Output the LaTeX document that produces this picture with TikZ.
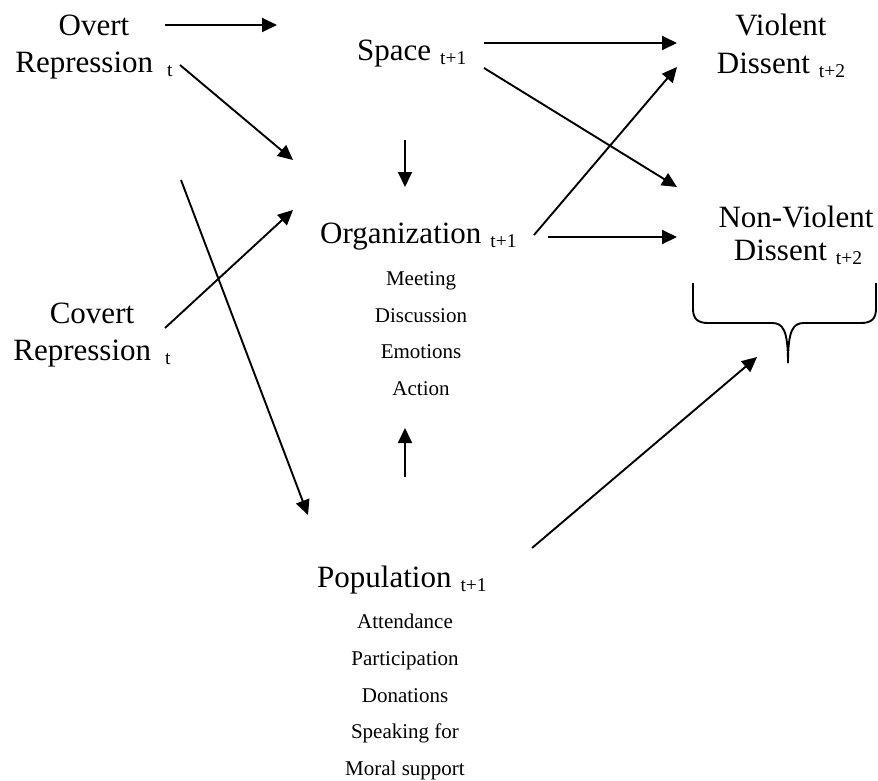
\documentclass[tikz,border=0pt]{standalone}
\usepackage{fontspec}
\setmainfont{Liberation Serif}
\usetikzlibrary{arrows.meta}
\newcommand{\bigf}{\fontsize{31}{37.5}\selectfont}
\newcommand{\smallf}{\fontsize{21}{25}\selectfont}
\newcommand{\subs}[1]{\raisebox{-4pt}{\fontsize{19.5}{20}\selectfont #1}}
\begin{document}
\begin{tikzpicture}[x=1pt,y=-1pt,
  lab/.style={font=\bigf, inner sep=0pt, anchor=base},
  labw/.style={font=\bigf, inner sep=0pt, anchor=base west},
  item/.style={font=\smallf, inner sep=0pt, anchor=base},
  arr/.style={line width=1.9pt, -{Triangle[length=15pt,width=14pt]}},
  brace/.style={line width=1.9pt}]
\useasboundingbox (0,0) rectangle (878,780);

% text nodes
\node[lab] (overt1) at (94,35) {Overt};
\node[lab] (overt2) at (94,72) {Repression\hspace{14pt}\subs{t}};
\node[lab] (covert1) at (92,323) {Covert};
\node[lab] (covert2) at (92,360) {Repression\hspace{14pt}\subs{t}};
\node[labw] (space) at (357,60) {Space\hspace{9pt}\subs{t+1}};
\node[labw] (org) at (320,243) {Organization\hspace{9pt}\subs{t+1}};
\node[item] (o1) at (421,285) {Meeting};
\node[item] (o2) at (421,322) {Discussion};
\node[item] (o3) at (421,358) {Emotions};
\node[item] (o4) at (421,395) {Action};
\node[labw] (pop) at (317,587) {Population\hspace{9pt}\subs{t+1}};
\node[item] (p1) at (405,628) {Attendance};
\node[item] (p2) at (405,665) {Participation};
\node[item] (p3) at (405,702) {Donations};
\node[item] (p4) at (405,738) {Speaking for};
\node[item] (p5) at (405,775) {Moral support};
\node[lab] (viol1) at (781,35) {Violent};
\node[lab] (viol2) at (781,73) {Dissent\hspace{9pt}\subs{t+2}};
\node[lab] (nv1) at (796,227) {Non-Violent};
\node[lab] (nv2) at (798,260) {Dissent\hspace{9pt}\subs{t+2}};

% connector end points
\coordinate (ovA) at (165,25);  \coordinate (spIn) at (277,25);
\coordinate (ovB) at (180,65);  \coordinate (orgIn1) at (293,160);
\coordinate (coA) at (165,328); \coordinate (orgIn2) at (293,210);
\coordinate (coB) at (181,180); \coordinate (popIn) at (308,515);
\coordinate (spD) at (405,140); \coordinate (orgTop) at (405,187);
\coordinate (popU) at (405,477); \coordinate (orgBot) at (405,428);
\coordinate (spR1) at (484,43); \coordinate (vIn1) at (677,43);
\coordinate (spR2) at (484,68); \coordinate (nvIn1) at (677,187);
\coordinate (orR1) at (534,235); \coordinate (vIn2) at (677,67);
\coordinate (orR2) at (548,237); \coordinate (nvIn2) at (677,237);
\coordinate (popR) at (532,548); \coordinate (brIn) at (757,357);

% connectors
\draw[arr] (ovA) -- (spIn);
\draw[arr] (ovB) -- (orgIn1);
\draw[arr] (coA) -- (orgIn2);
\draw[arr] (coB) -- (popIn);
\draw[arr] (spD) -- (orgTop);
\draw[arr] (popU) -- (orgBot);
\draw[arr] (spR1) -- (vIn1);
\draw[arr] (spR2) -- (nvIn1);
\draw[arr] (orR1) -- (vIn2);
\draw[arr] (orR2) -- (nvIn2);
\draw[arr] (popR) -- (brIn);

% brace
\draw[brace] (693,283) -- (693,309) .. controls (693,319) and (698,323) .. (708,323)
  -- (772,323) .. controls (783,323) and (788,330) .. (788,363);
\draw[brace] (876,283) -- (876,309) .. controls (876,319) and (871,323) .. (861,323)
  -- (804,323) .. controls (793,323) and (788,330) .. (788,363);
\end{tikzpicture}
\end{document}
